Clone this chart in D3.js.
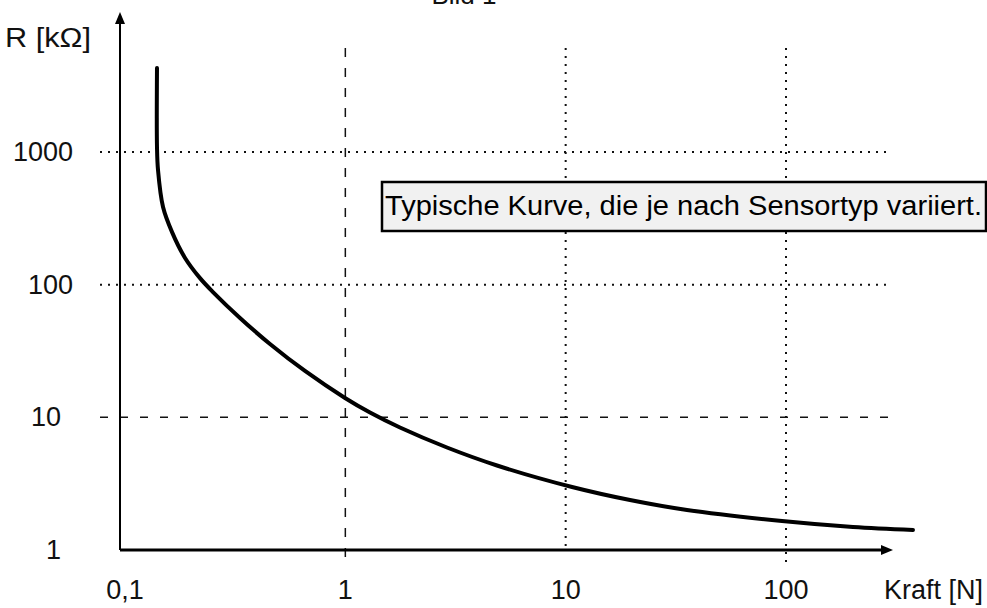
<!DOCTYPE html>
<html>
<head>
<meta charset="utf-8">
<script src="https://cdn.jsdelivr.net/npm/d3@7"></script>
<style>
    body { margin: 0; background: #fff; }
    svg { display: block; font-family: "Liberation Sans", Arial, sans-serif; }
</style>
</head>
<body>
<svg id="chart"></svg>
<script>
// Kraft [N] und Widerstand [kOhm]
const force = [0.1397, 0.1397, 0.1412, 0.1488, 0.1635, 0.1873, 0.219, 0.2508, 0.3326, 0.455, 0.6561, 0.9966, 1.294, 1.77, 2.893, 4.88, 10.69, 19.59, 35.54, 95.9, 201.4, 377];
const resistance = [4297, 1091, 731, 385, 249, 159, 112, 88.0, 56.1, 35.71, 22.35, 13.99, 10.87, 8.38, 5.924, 4.335, 2.985, 2.381, 2.002, 1.654, 1.491, 1.415];

const x_ticks = [0.1, 1, 10, 100];
const x_tick_labels = ['0,1', '1', '10', '100'];
const y_ticks = [1, 10, 100, 1000];
const y_tick_labels = ['1', '10', '100', '1000'];

const title = 'Bild 1';
const x_title = 'Kraft [N]';
const y_title = 'R [kΩ]';
const note = 'Typische Kurve, die je nach Sensortyp variiert.';

class ForceChart {
    constructor (config) {
        this.config = {
            parent: config.parent,
            width: config.width || 987,
            height: config.height || 608
        };
        this.data = force.map( (f, i) => ({ f: f, r: resistance[i] }) );
        this.init();
    }

    init() {
        let self = this;

        self.svg = d3.select(self.config.parent)
            .attr('width', self.config.width)
            .attr('height', self.config.height);

        self.xscale = d3.scaleLog()
            .domain([0.1, 100])
            .range([125, 786]);

        self.yscale = d3.scaleLog()
            .domain([1, 1000])
            .range([550, 152]);

        self.chart = self.svg.append('g');
    }

    render() {
        let self = this;
        const x0 = 120;
        const y0 = self.yscale(1);

        // gitterlinien
        const hstyle = { 1000: 'dot', 100: 'dot', 10: 'dash' };
        self.chart.selectAll('.hgrid')
            .data(y_ticks.filter(d => d > 1))
            .enter()
            .append('line')
            .attr('x1', 100)
            .attr('x2', d => d == 10 ? 893 : 888)
            .attr('y1', d => self.yscale(d))
            .attr('y2', d => self.yscale(d))
            .attr('stroke', '#111')
            .attr('stroke-width', d => hstyle[d] == 'dot' ? 2 : 1.5)
            .attr('stroke-dasharray', d => hstyle[d] == 'dot' ? '2,6' : '8,12');

        const vbottom = { 1: 565, 10: 550, 100: 562 };
        self.chart.selectAll('.vgrid')
            .data(x_ticks.filter(d => d > 0.1))
            .enter()
            .append('line')
            .attr('x1', d => self.xscale(d))
            .attr('x2', d => self.xscale(d))
            .attr('y1', 48)
            .attr('y2', d => vbottom[d])
            .attr('stroke', '#111')
            .attr('stroke-width', d => d == 1 ? 1.5 : 2)
            .attr('stroke-dasharray', d => d == 1 ? '9,11' : '2,6');

        // achsen
        self.chart.append('line')
            .attr('x1', x0).attr('x2', x0)
            .attr('y1', y0).attr('y2', 22)
            .attr('stroke', '#000')
            .attr('stroke-width', 2);
        self.chart.append('path')
            .attr('d', `M${x0},12 L${x0-5},24 L${x0+5},24 Z`)
            .attr('fill', '#000');

        self.chart.append('line')
            .attr('x1', x0).attr('x2', 884)
            .attr('y1', y0).attr('y2', y0)
            .attr('stroke', '#000')
            .attr('stroke-width', 3);
        self.chart.append('path')
            .attr('d', `M893,${y0} L881,${y0-5} L881,${y0+5} Z`)
            .attr('fill', '#000');

        // beschriftung
        self.chart.selectAll('.ylabel')
            .data(y_ticks)
            .enter()
            .append('text')
            .attr('x', d => d >= 100 ? 73 : 61)
            .attr('y', d => self.yscale(d) + 9)
            .attr('text-anchor', 'end')
            .style('font-size', '27px')
            .attr('fill', '#111')
            .text((d, i) => y_tick_labels[i]);

        self.chart.selectAll('.xlabel')
            .data(x_ticks)
            .enter()
            .append('text')
            .attr('x', d => self.xscale(d))
            .attr('y', 599)
            .attr('text-anchor', 'middle')
            .style('font-size', '27px')
            .attr('fill', '#111')
            .text((d, i) => x_tick_labels[i]);

        self.svg.append('text')
            .attr('x', 983)
            .attr('y', 599)
            .attr('text-anchor', 'end')
            .style('font-size', '27px')
            .attr('fill', '#111')
            .text(x_title);

        self.svg.append('text')
            .attr('x', 5)
            .attr('y', 47)
            .attr('textLength', 86)
            .attr('lengthAdjust', 'spacingAndGlyphs')
            .style('font-size', '27px')
            .attr('fill', '#111')
            .text(y_title);

        self.svg.append('text')
            .attr('x', 464)
            .attr('y', 4)
            .attr('text-anchor', 'middle')
            .style('font-size', '26px')
            .attr('fill', '#111')
            .text(title);

        // kurve
        const line = d3.line()
            .x(d => self.xscale(d.f))
            .y(d => self.yscale(d.r))
            .curve(d3.curveCatmullRom.alpha(0.5));

        self.chart.append('path')
            .datum(self.data)
            .attr('d', line)
            .attr('fill', 'none')
            .attr('stroke', '#000')
            .attr('stroke-width', 4)
            .attr('stroke-linecap', 'round');

        // hinweis-kasten
        const box = self.svg.append('g');
        box.append('rect')
            .attr('x', 382)
            .attr('y', 182)
            .attr('width', 604)
            .attr('height', 49)
            .attr('fill', '#f1f1f1')
            .attr('stroke', '#000')
            .attr('stroke-width', 2.5);
        box.append('text')
            .attr('x', 385)
            .attr('y', 215)
            .attr('textLength', 597)
            .attr('lengthAdjust', 'spacingAndGlyphs')
            .style('font-size', '27px')
            .attr('fill', '#000')
            .text(note);
    }
}

const chart = new ForceChart({ parent: '#chart', width: 987, height: 608 });
chart.render();
</script>
</body>
</html>
